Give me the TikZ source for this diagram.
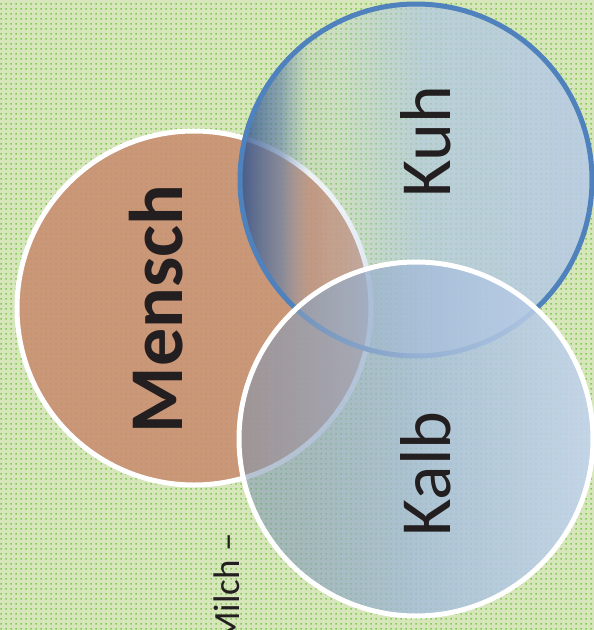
\documentclass[tikz,border=0pt]{standalone}
\usepackage{fontspec}
\setmainfont{Carlito}
\usetikzlibrary{patterns.meta,fadings}

\definecolor{meadow}{RGB}{214,229,186}
\definecolor{meadowdot}{RGB}{130,202,85}
\definecolor{skin}{RGB}{202,141,113}
\definecolor{cowblue}{RGB}{79,129,189}
\definecolor{cowdark}{RGB}{45,80,140}
\definecolor{cowmid}{RGB}{110,140,175}
\definecolor{cowlight}{RGB}{172,197,222}
\definecolor{cowpale}{RGB}{184,203,230}
\definecolor{calfdark}{RGB}{125,148,175}
\definecolor{calfmid}{RGB}{166,189,218}
\definecolor{calfpale}{RGB}{194,212,235}
\definecolor{ink}{RGB}{35,31,32}

\tikzdeclarepattern{
  name=meadowdots,
  type=uncolored,
  bounding box={(0,0) and (5pt,5pt)},
  tile size={(5pt,5pt)},
  code={\fill (1.5pt,1.5pt) rectangle (3.5pt,3.5pt);}
}

\pgfdeclarehorizontalshading{cowshade}{100bp}{color(0bp)=(cowdark); color(25bp)=(cowdark);
  color(32bp)=(cowmid); color(38bp)=(cowlight); color(75bp)=(cowpale); color(100bp)=(cowpale)}
\pgfdeclarehorizontalshading{calfshade}{100bp}{color(0bp)=(calfdark); color(25bp)=(calfdark);
  color(51bp)=(calfmid); color(75bp)=(calfpale); color(100bp)=(calfpale)}

\begin{tikzfadingfrompicture}[name=cowfade]
  \fill[transparent!15] (-50bp,-50bp) rectangle (-25bp,50bp);
  \shade[left color=transparent!15,right color=transparent!35] (-25bp,-50bp) rectangle (-19bp,50bp);
  \shade[left color=transparent!35,right color=transparent!85] (-19bp,-50bp) rectangle (-15bp,50bp);
  \shade[left color=transparent!85,right color=transparent!75] (-15bp,-50bp) rectangle (-10bp,50bp);
  \shade[left color=transparent!75,right color=transparent!28] (-10bp,-50bp) rectangle (0.6bp,50bp);
  \shade[left color=transparent!28,right color=transparent!10] (0.6bp,-50bp) rectangle (25bp,50bp);
  \fill[transparent!10] (25bp,-50bp) rectangle (50bp,50bp);
\end{tikzfadingfrompicture}

\begin{tikzfadingfrompicture}[name=calffade]
  \fill[transparent!45] (-50bp,-50bp) rectangle (-25bp,50bp);
  \shade[left color=transparent!45,right color=transparent!18] (-25bp,-50bp) rectangle (0.6bp,50bp);
  \shade[left color=transparent!18,right color=transparent!8] (0.6bp,-50bp) rectangle (25bp,50bp);
  \fill[transparent!8] (25bp,-50bp) rectangle (50bp,50bp);
\end{tikzfadingfrompicture}

\begin{document}
\begin{tikzpicture}[x=1pt,y=-1pt,
    ring/.style={line width=5pt,draw=white},
    tag/.style={rotate=90,inner sep=0pt,text=ink}]
  \useasboundingbox (0,0) rectangle (594,630);
  \clip (0,0) rectangle (594,630);
  \fill[meadow] (0,0) rectangle (594,630);
  \fill[pattern=meadowdots,pattern color=meadowdot] (0,0) rectangle (594,630);

  \coordinate (mensch) at (194,308);
  \coordinate (kuh)    at (416,180);
  \coordinate (kalb)   at (416,439);

  \fill[skin,fill opacity=.88] (mensch) circle[radius=177];
  \draw[ring] (mensch) circle[radius=177];
  \shade[shading=cowshade,path fading=cowfade] (kuh) circle[radius=177];
  \draw[ring,draw=cowblue] (kuh) circle[radius=176];
  \shade[shading=calfshade,path fading=calffade] (kalb) circle[radius=177];
  \draw[ring] (kalb) circle[radius=177];

  \node[tag,font=\bfseries\fontsize{76}{76}\selectfont] (menschtag) at ([shift={(-38,1)}]mensch) {Mensch};
  \node[tag,font=\fontsize{72}{72}\selectfont] (kuhtag) at ([shift={(10,-38)}]kuh) {Kuh};
  \node[tag,font=\fontsize{72}{72}\selectfont] (kalbtag) at ([shift={(10,35)}]kalb) {Kalb};
  \node[tag,font=\fontsize{37}{37}\selectfont,anchor=base east] (milch) at (239,533) {Milch –};
\end{tikzpicture}
\end{document}
